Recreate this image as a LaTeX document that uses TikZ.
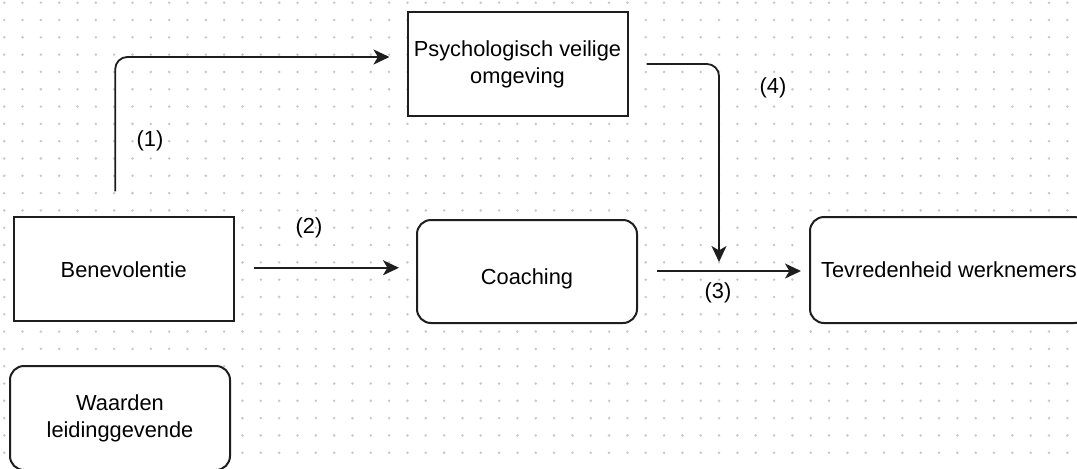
\documentclass[tikz,border=0pt]{standalone}
\usepackage{fontspec}
\setmainfont{Liberation Sans}
\usetikzlibrary{arrows.meta}
\definecolor{dotc}{RGB}{200,200,200}
\definecolor{linec}{RGB}{30,30,30}
\begin{document}
\begin{tikzpicture}[x=0.5pt,y=-0.5pt,
  box/.style={draw=linec, line width=1pt, fill=white, align=center, inner sep=2pt,
    font=\fontsize{10.9}{13.5}\selectfont},
  rbox/.style={box, rounded corners=7pt},
  arr/.style={draw=linec, line width=0.9pt, -{Stealth[length=8pt,width=7.5pt,inset=2.2pt]}},
  lbl/.style={font=\fontsize{10.9}{13.5}\selectfont, inner sep=0pt}]
\clip (0,0) rectangle (1077,468);
\fill[white] (0,0) rectangle (1077,468);
% dot grid
\foreach \i in {0,...,58} {
  \foreach \j in {0,...,26} {
    \fill[dotc] (4.2+18.33*\i, 2.7+17.31*\j) circle[radius=0.7pt];
  }
}
% nodes
\node[box, minimum width=110pt, minimum height=52pt] (bene) at (123.75,269.25) {Benevolentie};
\node[box, minimum width=110pt, minimum height=52pt] (psy) at (517.5,64) {Psychologisch veilige\\omgeving};
\node[rbox, minimum width=110pt, minimum height=51.5pt] (coach) at (527,271.5) {\raisebox{-6.5pt}[0pt][0pt]{Coaching}};
\node[rbox, minimum width=139pt, minimum height=53pt] (tev) at (949,270) {Tevredenheid werknemers};
\node[rbox, minimum width=110pt, minimum height=52pt] (waar) at (120,418) {Waarden\\leidinggevende};
% connectors
\draw[arr, rounded corners=6pt, shorten <=12.5pt, shorten >=8.5pt]
  ([xshift=-4.25pt]bene.north) |- ([yshift=3.5pt]psy.west);
\draw[arr, shorten <=9.5pt, shorten >=8.5pt] ([yshift=0.75pt]bene.east) -- ([yshift=0.75pt]bene.east -| coach.west);
\draw[arr, shorten <=9.5pt, shorten >=4pt] ([yshift=0.25pt]coach.east) -- ([yshift=0.25pt]coach.east -| tev.west);
\coordinate (j) at (719,271);
\draw[arr, rounded corners=6pt, shorten <=9pt, shorten >=4.5pt] (psy.east) -| (j);
% labels
\node[lbl] (l1) at (150,141) {(1)};
\node[lbl] (l2) at (309,228) {(2)};
\node[lbl] (l3) at (718,293) {(3)};
\node[lbl] (l4) at (773,88) {(4)};
\end{tikzpicture}
\end{document}
